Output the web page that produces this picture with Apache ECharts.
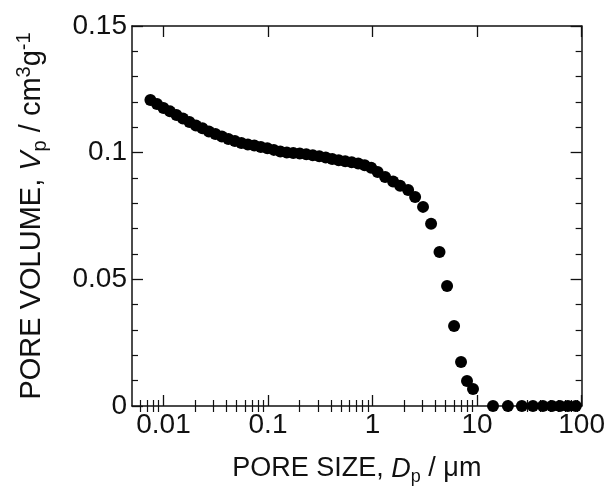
<!DOCTYPE html>
<html><head><meta charset="utf-8">
<script src="https://cdn.jsdelivr.net/npm/echarts@6/dist/echarts.min.js"></script>
<style>html,body{margin:0;padding:0;background:#fff}#c{width:608px;height:493px}</style>
</head><body><div id="c"></div>
<script>
// Pore size (µm) and cumulative pore volume (cm3/g)
const poreSize = [0.0075,0.00867,0.0100,0.01154,0.01331,0.01536,0.01771,0.02044,0.02358,0.0272,
  0.03139,0.03621,0.04178,0.04819,0.05559,0.06414,0.07399,0.08536,0.0985,0.1136,
  0.1311,0.1512,0.1744,0.2012,0.2322,0.2679,0.309,0.3565,0.4113,0.4745,
  0.5474,0.6316,0.7286,0.8406,0.970,1.119,1.319,1.573,1.835,2.188,
  2.553,3.04,3.63,4.37,5.16,6.02,7.02,8.01,9.14,14.2,
  19.7,26.8,34.2,42.6,51.9,61.9,73.8,88.0];
const poreVolume = [0.1208,0.1192,0.1176,0.1163,0.1149,0.1135,0.1121,0.1107,0.1096,0.1084,
  0.1074,0.1064,0.1054,0.1046,0.1038,0.1032,0.1028,0.1022,0.1017,0.1011,
  0.1005,0.1001,0.0999,0.0997,0.0994,0.0990,0.0986,0.0981,0.0975,0.0970,
  0.0966,0.0962,0.0957,0.0950,0.0940,0.0924,0.0904,0.0886,0.0869,0.0853,
  0.0825,0.0786,0.0719,0.0608,0.0474,0.0316,0.0174,0.0099,0.0067,0.0,
  0.0,0.0,0.0,0.0,0.0,0.0,0.0,0.0];
const xTickLabels = [0.01, 0.1, 1, 10, 100];
const xMinorTicks = [0.006,0.007,0.008,0.009,
  0.02,0.03,0.04,0.05,0.06,0.07,0.08,0.09,
  0.2,0.3,0.4,0.5,0.6,0.7,0.8,0.9,
  2,3,4,5,6,7,8,9,
  20,30,40,50,60,70,80,90];
const yTickLabels = [0, 0.05, 0.1, 0.15];

const FONT = '"Liberation Sans", Arial, Helvetica, sans-serif';
const INK = '#111';
const data = poreSize.map((x, i) => [x, poreVolume[i]]);

function decadeLabel(v) {
  for (const t of xTickLabels) if (Math.abs(v / t - 1) < 1e-6) return String(t);
  return '';
}

const lineStyle = { color: INK, width: 1.5 };
const xBase = {
  type: 'log', logBase: 10, min: 0.005, max: 100,
  axisLine: { show: true, onZero: false, lineStyle },
  splitLine: { show: false },
  minorTick: { show: false },
};
const yBase = {
  type: 'value', min: 0, max: 0.15, interval: 0.05,
  axisLine: { show: true, onZero: false, lineStyle },
  splitLine: { show: false },
  axisTick: { show: true, inside: true, length: 11, lineStyle: { color: INK, width: 1.3 } },
  minorTick: { show: true, splitNumber: 5, length: 6, lineStyle: { color: INK, width: 1.2 } },
};

function makeRich(main, small, shift) {
  return {
    n: { fontSize: main, fontFamily: FONT, color: INK },
    i: { fontSize: main, fontFamily: FONT, color: INK, fontStyle: 'italic' },
    s: { fontSize: small, fontFamily: FONT, color: INK, padding: [shift, 0, 0, 0] },
    u: { fontSize: small, fontFamily: FONT, color: INK, padding: [0, 0, shift, 0] },
  };
}

const chart = echarts.init(document.getElementById('c'), null, { renderer: 'canvas' });
chart.setOption({
  backgroundColor: '#fff',
  animation: false,
  grid: { left: 132, right: 26, top: 26, bottom: 87, containLabel: false },
  xAxis: [
    Object.assign({}, xBase, {
      position: 'bottom',
      name: '{n|PORE SIZE, }{i|D}{s|p}{n| / μm}',
      nameLocation: 'middle', nameGap: 46,
      nameTextStyle: { rich: makeRich(27, 18, 16) },
      axisTick: { show: true, inside: true, length: 11, customValues: xTickLabels,
        lineStyle: { color: INK, width: 1.3 } },
      axisLabel: { show: true, margin: 5, fontSize: 28, fontFamily: FONT, color: INK,
        customValues: xTickLabels, formatter: v => decadeLabel(v) },
    }),
    Object.assign({}, xBase, {
      position: 'bottom',
      axisLine: { show: false },
      axisTick: { show: true, inside: true, length: 6, customValues: xMinorTicks,
        lineStyle: { color: INK, width: 1.2 } },
      axisLabel: { show: false },
    }),
    Object.assign({}, xBase, {
      position: 'top',
      axisTick: { show: true, inside: true, length: 11, customValues: xTickLabels,
        lineStyle: { color: INK, width: 1.3 } },
      axisLabel: { show: false },
    }),
    Object.assign({}, xBase, {
      position: 'top',
      axisLine: { show: false },
      axisTick: { show: true, inside: true, length: 6, customValues: xMinorTicks,
        lineStyle: { color: INK, width: 1.2 } },
      axisLabel: { show: false },
    }),
  ],
  yAxis: [
    Object.assign({}, yBase, {
      position: 'left',
      name: '{n|PORE VOLUME, }{i|V}{s|p}{n| / cm}{u|3}{n|g}{u|-1}',
      nameLocation: 'middle', nameGap: 82,
      nameTextStyle: { rich: makeRich(29, 20, 16) },
      axisLabel: { show: true, margin: 5, fontSize: 28, fontFamily: FONT, color: INK,
        formatter: v => String(+v.toFixed(4)) },
    }),
    Object.assign({}, yBase, {
      position: 'right',
      axisLabel: { show: false },
    }),
  ],
  series: [{
    type: 'scatter',
    xAxisIndex: 0, yAxisIndex: 0,
    symbol: 'circle', symbolSize: 12,
    itemStyle: { color: '#000', opacity: 1 },
    data: data,
  }],
});
</script>
</body></html>
